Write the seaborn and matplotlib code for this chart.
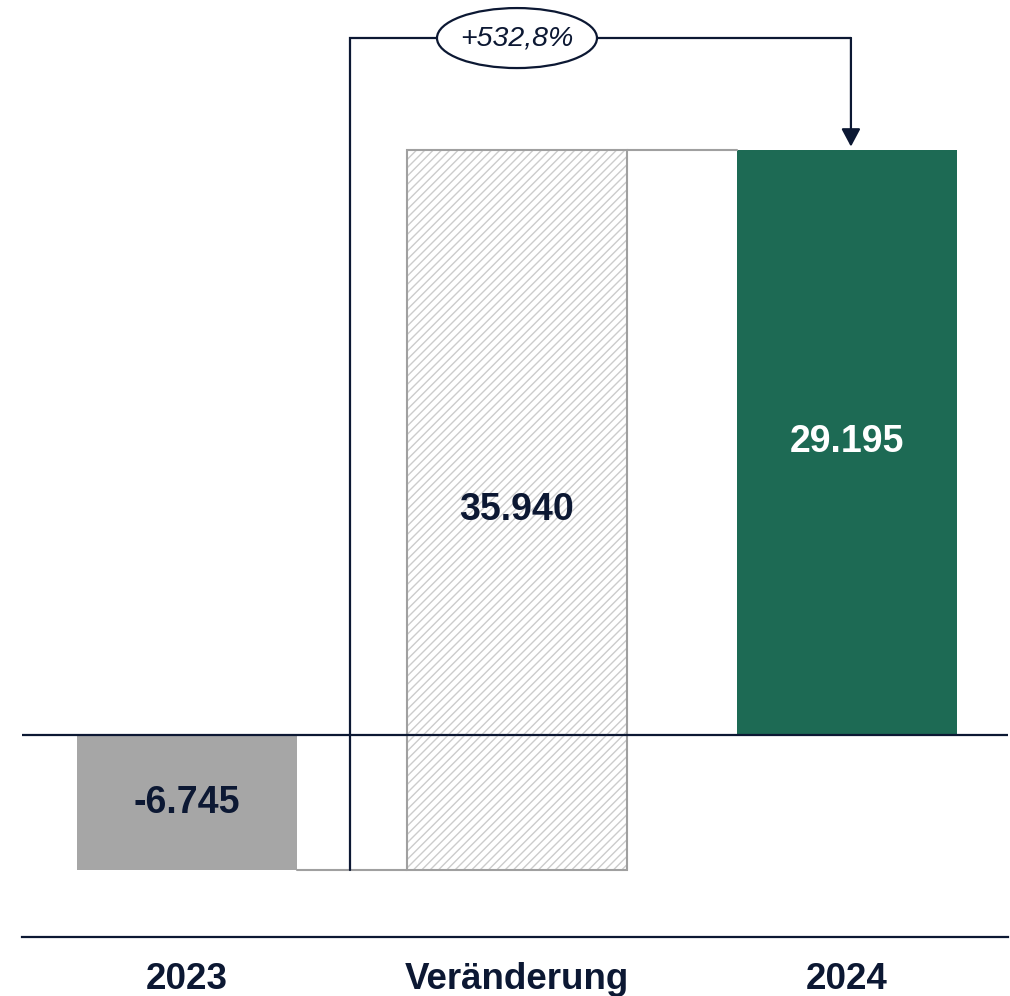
import matplotlib
matplotlib.use("Agg")
import matplotlib.pyplot as plt
from matplotlib.patches import Rectangle, Ellipse
import seaborn as sns
import pandas as pd

categories = ["2023", "Veränderung", "2024"]
values = [-6745, 35940, 29195]
value_labels = ["-6.745", "35.940", "29.195"]
change_label = "+532,8%"

NAVY = "#0c1833"
GRAY = "#a6a6a6"
GREEN = "#1d6a54"
EDGE = "#a0a0a0"
HATCH = "#cccccc"

sns.set_theme(style="white")
plt.rcParams["font.family"] = ["Liberation Sans", "DejaVu Sans"]
plt.rcParams["hatch.linewidth"] = 1.0

fig = plt.figure(figsize=(10.10, 9.96), dpi=100)
ax = fig.add_axes([22 / 1010, (996 - 937) / 996, (1008 - 22) / 1010, 937 / 996])

df = pd.DataFrame({"cat": categories, "val": values})
W = 0.667
sns.barplot(data=df, x="cat", y="val", order=categories, width=W,
            palette=[GRAY, "white", GREEN], hue="cat", legend=False,
            saturation=1, ax=ax, edgecolor="none", linewidth=0)

patches = ax.patches[:3]
start = values[0]
# floating change bar
p = patches[1]
p.set_y(start)
p.set_height(values[1])
p.set_facecolor("white")
p.set_edgecolor(HATCH)
p.set_hatch("////")
p.set_linewidth(0)
ax.add_patch(Rectangle(p.get_xy(), p.get_width(), p.get_height(),
                       fill=False, ec=EDGE, lw=1.5, zorder=3))

ax.set_xlim(-0.5, 2.488)
ax.set_ylim(-10075, 36658)

# zero line
ax.axhline(0, color=NAVY, lw=1.6, zorder=4)

# connectors
end = start + values[1]
ax.plot([0 + W / 2, 1 - W / 2], [start, start], color=EDGE, lw=1.5, zorder=2)
ax.plot([1 + W / 2, 2 - W / 2], [end, end], color=EDGE, lw=1.5, zorder=2)

# value labels
lab_colors = [NAVY, NAVY, "white"]
bottoms = [0, start, 0]
for i, (v, lab) in enumerate(zip(values, value_labels)):
    b = bottoms[i]
    ax.text(i, b + v / 2, lab, ha="center", va="center", fontsize=27,
            fontweight="bold", color=lab_colors[i], zorder=5)

# bracket
y_br = 34760
xl, xr = 0.494, 2.012
ax.plot([xl, xl, xr], [start, y_br, y_br], color=NAVY, lw=1.6, zorder=5,
        solid_joinstyle="miter")
ax.annotate("", xy=(xr, values[2] + 150), xytext=(xr, y_br),
            arrowprops=dict(arrowstyle="-|>,head_length=0.45,head_width=0.24",
                            mutation_scale=24, color=NAVY, lw=1.6,
                            shrinkA=0, shrinkB=0), zorder=5)
ax.add_patch(Ellipse((1.0, y_br), width=160 / 330, height=60 / 20.05 * 1000,
                     fc="white", ec=NAVY, lw=1.6, zorder=6))
ax.text(1.0, y_br, change_label, ha="center", va="center", fontsize=20.5,
        style="italic", color=NAVY, zorder=7)

# axes styling
for s in ["top", "right", "left"]:
    ax.spines[s].set_visible(False)
ax.spines["bottom"].set_color(NAVY)
ax.spines["bottom"].set_linewidth(1.6)
ax.set_xlabel("")
ax.set_ylabel("")
ax.set_yticks([])
ax.tick_params(axis="x", length=0, pad=18, labelsize=26.5, colors=NAVY)
for t in ax.get_xticklabels():
    t.set_fontweight("bold")

fig.savefig("out.png", dpi=100)
